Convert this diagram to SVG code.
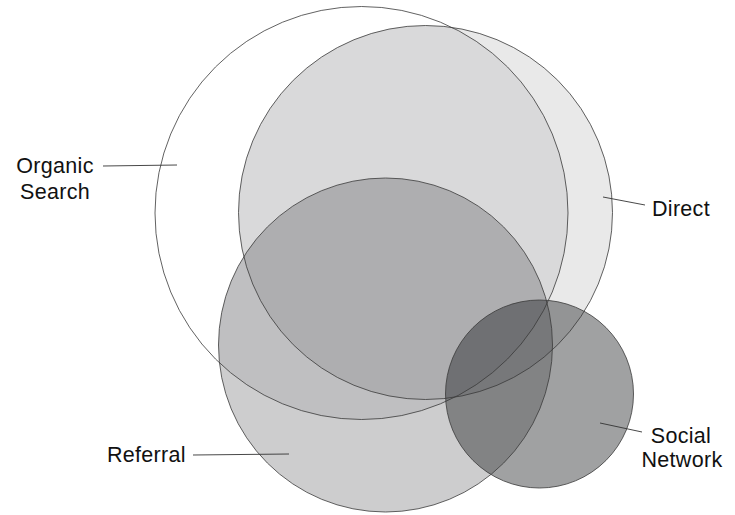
<svg xmlns="http://www.w3.org/2000/svg" width="735" height="515" viewBox="0 0 735 515">
  <style>
    .label { font-family: "Liberation Sans", Arial, sans-serif; font-size: 21.5px; fill: #111; letter-spacing: 0.3px; }
    .edge { fill: none; stroke: #3a3a3a; stroke-width: 0.8; }
    .leader { stroke: #333; stroke-width: 0.9; fill: none; }
    .tint { fill: #121316; }
  </style>
  <defs>
    <clipPath id="shaded">
      <circle cx="425.5" cy="212.5" r="187"/>
      <circle cx="385.5" cy="345" r="167"/>
      <circle cx="539.5" cy="394" r="94"/>
    </clipPath>
  </defs>
  <rect width="735" height="515" fill="#ffffff"/>

  <!-- translucent fills, darker where sets overlap -->
  <g id="fills">
    <circle class="tint" cx="425.5" cy="212.5" r="187" fill-opacity="0.095"/>
    <circle class="tint" cx="385.5" cy="345" r="167" fill-opacity="0.21"/>
    <circle class="tint" cx="539.5" cy="394" r="94" fill-opacity="0.4"/>
    <circle class="tint" cx="361.5" cy="213" r="206.5" fill-opacity="0.07" clip-path="url(#shaded)"/>
  </g>

  <g id="organic-search">
    <circle class="edge" cx="361.5" cy="213" r="206.5"/>
    <text class="label" x="55" y="173" text-anchor="middle">Organic</text>
    <text class="label" x="55" y="199" text-anchor="middle">Search</text>
  </g>
  <g id="direct">
    <circle class="edge" cx="425.5" cy="212.5" r="187"/>
    <text class="label" x="652" y="216">Direct</text>
  </g>
  <g id="referral">
    <circle class="edge" cx="385.5" cy="345" r="167"/>
    <text class="label" x="107" y="462">Referral</text>
  </g>
  <g id="social-network">
    <circle class="edge" cx="539.5" cy="394" r="94"/>
    <text class="label" x="681" y="443" text-anchor="middle">Social</text>
    <text class="label" x="682" y="467" text-anchor="middle">Network</text>
  </g>

  <g id="connectors">
    <line class="leader" x1="103" y1="166" x2="177" y2="165"/>
    <line class="leader" x1="603" y1="197" x2="645" y2="205"/>
    <line class="leader" x1="193" y1="455" x2="289" y2="454"/>
    <line class="leader" x1="600" y1="423" x2="642" y2="432"/>
  </g>
</svg>
